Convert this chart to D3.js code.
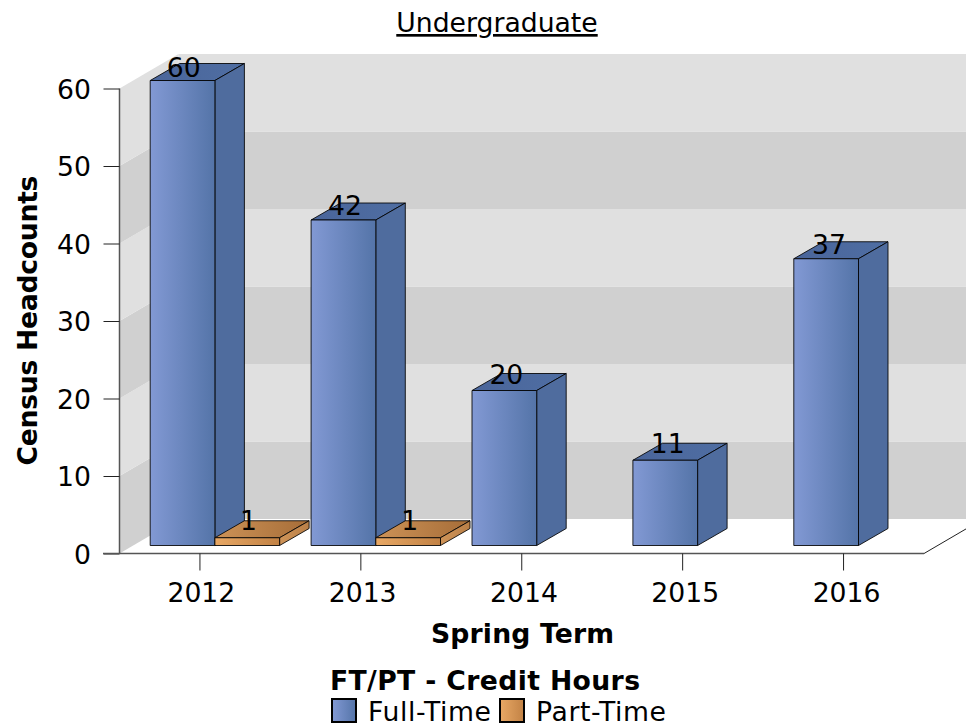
<!DOCTYPE html>
<html><head><meta charset="utf-8">
<script src="https://cdn.jsdelivr.net/npm/d3@7"></script>
<style>html,body{margin:0;padding:0;background:#fff}svg{display:block}text{font-family:"DejaVu Sans",sans-serif;fill:#000}</style>
</head><body><svg id="c" width="966" height="728"></svg>
<script>
const categories = ["2012","2013","2014","2015","2016"];
const seriesNames = ["Full-Time","Part-Time"];
const fullTime = [60,42,20,11,37];
const partTime = [1,1,0,0,0];
const yTicks = [0,10,20,30,40,50,60];

const svg = d3.select("#c");
const W=966, FS=26.67;
const L=119.5,R=924,Y0=553.5,Y60=88.5;
const wallDx=59,wallDy=-34.5;
const x=d3.scaleBand().domain(categories).range([L,R]);
const y=d3.scaleLinear().domain([0,60]).range([Y0,Y60]);
const xText=d3.scaleBand().domain(categories).range([L+1.2,R+3.2]);
const yLabel=d3.scaleLinear().domain([0,60]).range([537.5,77]);
const barShiftY=-8;
const barLeft=30.7;
const inner=d3.scaleBand().domain(seriesNames).range([barLeft,x.bandwidth()-0.8]);
const bDx=29.5,bDy=-17;

const defs=svg.append("defs");
function grad(id,a,b){
  const g=defs.append("linearGradient").attr("id",id).attr("x1",0).attr("y1",0).attr("x2",1).attr("y2",0);
  g.append("stop").attr("offset",0).attr("stop-color",a);
  g.append("stop").attr("offset",1).attr("stop-color",b);
}
grad("bf","#8299d4","#5474a8");
grad("bt","#4a659a","#4f6ea3");
grad("of","#e8a865","#c28245");
grad("ot","#cc9257","#a66d38");
grad("os","#cf9458","#b97f47");
const look={"Full-Time":{f:"url(#bf)",t:"url(#bt)",s:"#4f6c9e"},"Part-Time":{f:"url(#of)",t:"url(#ot)",s:"url(#os)"}};

// walls
const wall=svg.append("g");
d3.range(0,6).forEach(i=>{
  const lo=yTicks[i],hi=yTicks[i+1];
  const col=i%2===0?"#d0d0d0":"#e0e0e0";
  wall.append("rect").attr("x",L+wallDx).attr("y",y(hi)+wallDy).attr("width",W-L-wallDx).attr("height",y(lo)-y(hi)).attr("fill",col);
  wall.append("path").attr("d",`M${L},${y(lo)}L${L+wallDx},${y(lo)+wallDy}L${L+wallDx},${y(hi)+wallDy}L${L},${y(hi)}Z`).attr("fill",col);
});
wall.append("path").attr("d",`M${R},${Y0}L${W+1},${Y0+wallDy*(W+1-R)/wallDx}`).attr("stroke","#222").attr("stroke-width",1).attr("fill","none");

// bars
const marks=[];
categories.forEach((c,i)=>{
  [{n:"Full-Time",v:fullTime[i]},{n:"Part-Time",v:partTime[i]}].forEach(d=>{ if(d.v>0) marks.push({c,n:d.n,v:d.v}); });
});
const g=svg.append("g");
const bar=g.selectAll("g.b").data(marks).join("g").attr("class","b");
const geom=d=>{const x0=x(d.c)+inner(d.n),w=inner.bandwidth(),t=y(d.v)+barShiftY,b=y(0)+barShiftY;return{x0,w,t,b};};
bar.append("path").attr("d",d=>{const{x0,w,t}=geom(d);return `M${x0},${t}L${x0+bDx},${t+bDy}L${x0+w+bDx},${t+bDy}L${x0+w},${t}Z`;})
  .attr("fill",d=>look[d.n].t);
bar.append("path").attr("d",d=>{const{x0,w,t,b}=geom(d);return `M${x0+w},${t}L${x0+w+bDx},${t+bDy}L${x0+w+bDx},${b+bDy}L${x0+w},${b}Z`;})
  .attr("fill",d=>look[d.n].s);
bar.append("rect").attr("x",d=>geom(d).x0).attr("y",d=>geom(d).t).attr("width",d=>geom(d).w).attr("height",d=>geom(d).b-geom(d).t)
  .attr("fill",d=>look[d.n].f);
bar.selectAll("path,rect").attr("stroke","#000").attr("stroke-width",1).attr("stroke-linejoin","round").attr("stroke-opacity",.85);
bar.append("text").attr("text-anchor","middle").attr("font-size",FS)
  .attr("x",d=>xText(d.c)+inner(d.n)+inner.bandwidth()/2).attr("y",d=>yLabel(d.v)).text(d=>d.v);

// axes
const ax=svg.append("g").attr("transform",`translate(${L},0)`).call(d3.axisLeft(y).tickValues(yTicks).tickSize(16).tickPadding(12.5).tickFormat(d3.format("d")));
ax.selectAll("text").attr("font-size",FS).attr("font-family",'"DejaVu Sans"').attr("fill","#000").attr("transform","translate(0,1)");
ax.selectAll("line").attr("stroke","#222");
ax.select(".domain").attr("d",`M0,${Y0}V${Y60}`).attr("stroke","#555").attr("stroke-width",1.5);
const bx=svg.append("g").attr("transform",`translate(0,${Y0})`).call(d3.axisBottom(xText).tickSize(17).tickPadding(13));
bx.selectAll("text").attr("font-size",FS).attr("font-family",'"DejaVu Sans"').attr("fill","#000");
bx.selectAll("line").remove();
bx.selectAll("g.tickmark").data(categories).join("line").attr("class","tickmark")
  .attr("x1",c=>x(c)+x.bandwidth()/2).attr("x2",c=>x(c)+x.bandwidth()/2).attr("y1",0).attr("y2",17).attr("stroke","#222");
bx.select(".domain").attr("d",`M103,0H${R}`).attr("stroke","#555").attr("stroke-width",1.5);

// titles
svg.append("text").attr("x",497).attr("y",32).attr("text-anchor","middle").attr("font-size",FS).attr("text-decoration","underline").text("Undergraduate");
svg.append("text").attr("transform","translate(37,320.5) rotate(-90)").attr("text-anchor","middle").attr("font-size",FS).attr("font-weight","bold").attr("textLength",290).text("Census Headcounts");
svg.append("text").attr("x",522.5).attr("y",643).attr("text-anchor","middle").attr("font-size",FS).attr("font-weight","bold").attr("textLength",183).text("Spring Term");

// legend
svg.append("text").attr("x",330).attr("y",690).attr("font-size",FS).attr("font-weight","bold").attr("textLength",310).text("FT/PT - Credit Hours");
const legX=[332,500], legT=[368,536], legLen=[123,130];
seriesNames.forEach((n,i)=>{
  svg.append("rect").attr("x",legX[i]).attr("y",699).attr("width",24).attr("height",23).attr("fill",look[n].f).attr("stroke","#000").attr("stroke-width",2);
  svg.append("text").attr("x",legT[i]).attr("y",721).attr("font-size",FS).attr("textLength",legLen[i]).text(n);
});
</script></body></html>
